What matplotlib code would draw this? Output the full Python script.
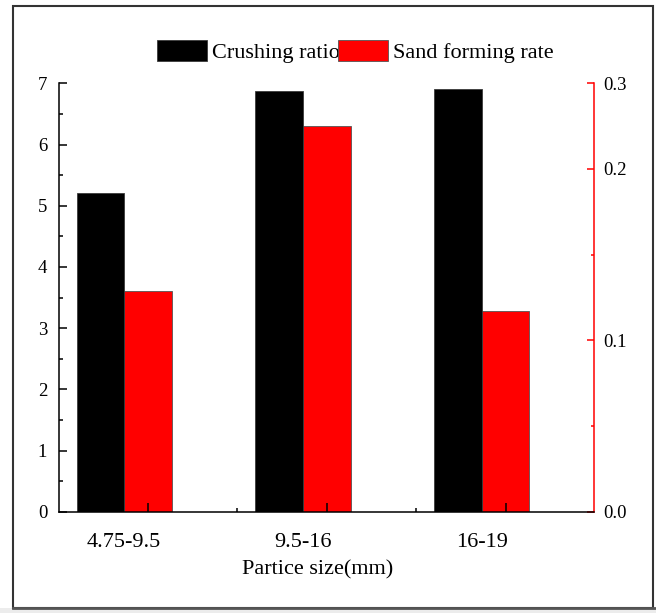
import numpy as np
import matplotlib.pyplot as plt
from matplotlib.patches import Rectangle

plt.rcParams['font.family'] = ['Liberation Serif', 'DejaVu Serif']

# particle size groups and measured values
sizes = ["4.75-9.5", "9.5-16", "16-19"]
crushing_ratio = [5.21, 6.88, 6.91]
sand_rate = [0.129, 0.225, 0.117]

ratio_ticks = [0, 1, 2, 3, 4, 5, 6, 7]
rate_ticks = [0.0, 0.1, 0.2, 0.25]
rate_labels = ["0.0", "0.1", "0.2", "0.3"]

W, H = 656, 613
fig = plt.figure(figsize=(W / 100, H / 100), dpi=100)

# outer frame + grey strip at the bottom
fig.add_artist(Rectangle((0, 0), 1, 5 / H, transform=fig.transFigure,
                         facecolor='#ececec', edgecolor='none'))
fig.add_artist(Rectangle((12.5 / W, 1 - 607.5 / H), 640 / W, 602 / H,
                         transform=fig.transFigure, fill=False,
                         edgecolor='#333333', linewidth=1.5))
fig.add_artist(plt.Line2D([12.5 / W, 1], [1 - 607.5 / H] * 2, transform=fig.transFigure,
                          color='#555555', linewidth=2))

ax = fig.add_axes([59 / W, 101.3 / H, 535 / W, 428.4 / H])
ax2 = ax.twinx()
ax.set_zorder(ax2.get_zorder() + 1)
ax.patch.set_visible(False)

x = np.arange(len(sizes))
w = 0.267
b1 = ax.bar(x - w / 2, crushing_ratio, w, color='black', edgecolor='#3a3a3a',
            linewidth=0.6, label='Crushing ratio')
b2 = ax2.bar(x + w / 2, sand_rate, w, color='red', edgecolor='#555555',
             linewidth=0.6, label='Sand forming rate')

ax.set_xlim(-0.365, 2.628)
ax.set_ylim(0, 7)
ax2.set_ylim(0, 0.25)

for s in ['top', 'right']:
    ax.spines[s].set_visible(False)
for s in ['top', 'left', 'bottom']:
    ax2.spines[s].set_visible(False)
ax.spines['left'].set_linewidth(1.1)
ax.spines['bottom'].set_linewidth(1.1)
ax2.spines['right'].set_color('red')
ax2.spines['right'].set_linewidth(1.1)

# left axis
ax.set_yticks(ratio_ticks)
ax.set_yticks(np.arange(0.5, 7, 1), minor=True)
ax.tick_params(axis='y', which='major', direction='in', length=5.8, width=1.1,
               labelsize=13.5, pad=8.5)
ax.tick_params(axis='y', which='minor', direction='in', length=2.9, width=1.1)

# bottom axis: ticks on the red bars, labels under each group
ax.set_xticks(x + w / 2, [''] * len(sizes))
ax.set_xticks(x[:-1] + 0.5 + w / 2, minor=True)
ax.tick_params(axis='x', which='major', direction='in', length=6.5, width=1.1)
ax.tick_params(axis='x', which='minor', direction='in', length=2.9, width=1.1)
for i, s in enumerate(sizes):
    ax.text(x[i], -0.072, s, transform=ax.get_xaxis_transform(),
            ha='center', va='center', fontsize=16)
ax.set_xlabel('Partice size(mm)', fontsize=16)
ax.xaxis.set_label_coords(0.484, -0.113)

# right axis
ax2.set_yticks(rate_ticks, rate_labels)
ax2.set_yticks([0.05, 0.15], minor=True)
ax2.tick_params(axis='y', which='major', direction='in', length=5, width=1.1,
                colors='red', labelcolor='black', labelsize=13.5, pad=6.5)
ax2.tick_params(axis='y', which='minor', direction='in', length=2.5, width=1.1,
                colors='red')

fig.legend(handles=[b1, b2], loc='center', bbox_to_anchor=(0.542, 0.916),
           ncol=2, frameon=False, fontsize=16, handlelength=2.25,
           handleheight=1.1, handletextpad=0.23, columnspacing=-0.08,
           borderpad=0, borderaxespad=0)

fig.savefig('out.png', dpi=100)
